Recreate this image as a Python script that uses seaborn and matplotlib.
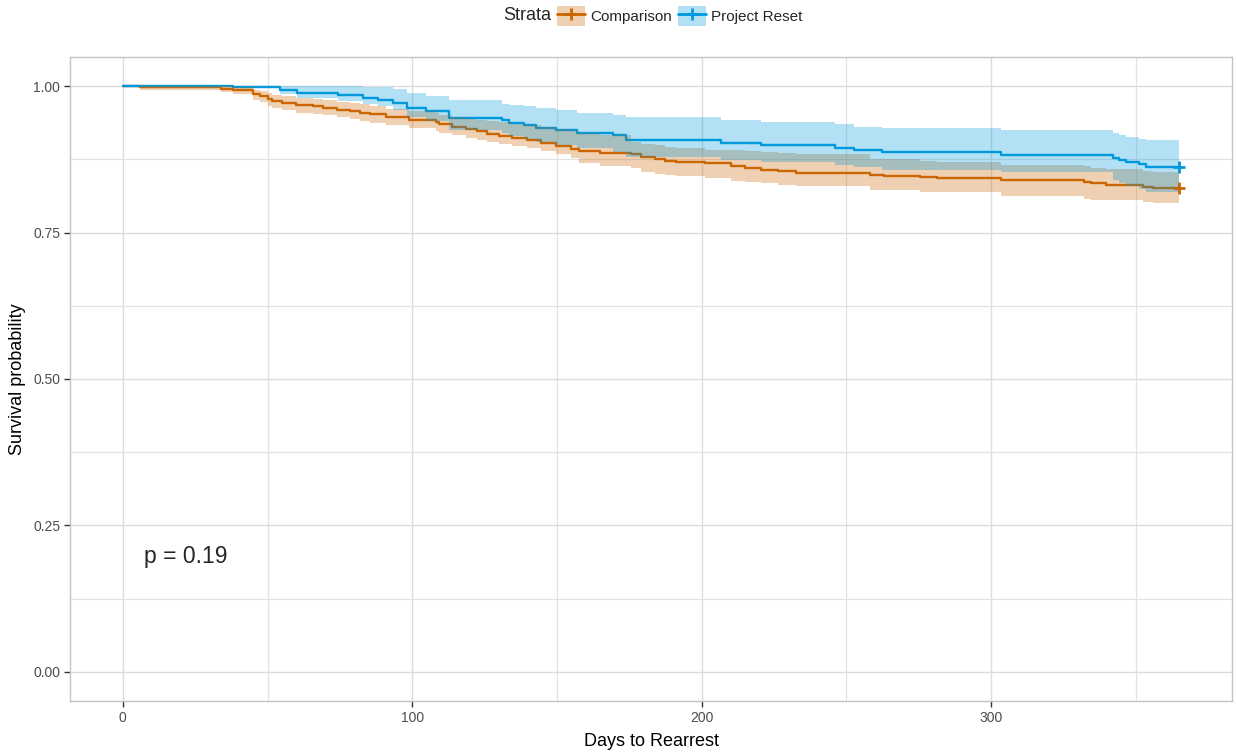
import seaborn as sns
import matplotlib.pyplot as plt
import pandas as pd
from matplotlib.patches import Patch
from matplotlib.lines import Line2D
from matplotlib.ticker import MultipleLocator

# Kaplan-Meier step values (days, survival, CI upper, CI lower)
comp_time = [0, 6, 34, 38, 45, 47.5, 50, 51.6, 55, 60, 65.7, 69, 74, 78.4, 81.8, 85.3, 91, 99,
             108.3, 109.4, 113.8, 118.6, 122.4, 126, 130, 134.5, 139.6, 144.4, 149.6, 154.7,
             157.5, 165, 175.7, 179.2, 184, 187.4, 191, 201, 210, 215, 220.4, 226.3, 232.5,
             258, 263, 275.4, 281.3, 303.6, 332.2, 334.6, 339.8, 352.5, 356, 365]
comp_surv = [1.0, 0.998, 0.996, 0.993, 0.986, 0.983, 0.978, 0.974, 0.9715, 0.9676, 0.9659,
             0.9637, 0.9602, 0.9573, 0.9551, 0.9522, 0.9476, 0.9432, 0.9391, 0.9352, 0.9306,
             0.9278, 0.9237, 0.9193, 0.9152, 0.9125, 0.9078, 0.9032, 0.8981, 0.8937, 0.8896,
             0.8868, 0.884, 0.8794, 0.8754, 0.8725, 0.8698, 0.8681, 0.864, 0.8606, 0.8578,
             0.8555, 0.8527, 0.8481, 0.8469, 0.8452, 0.8435, 0.8391, 0.8357, 0.834, 0.8311,
             0.8271, 0.8254, 0.8254]
comp_upper = [1.0, 1.0, 1.0, 0.999, 0.994, 0.992, 0.988, 0.985, 0.983, 0.98, 0.978, 0.976,
              0.973, 0.971, 0.969, 0.966, 0.962, 0.958, 0.954, 0.951, 0.947, 0.944, 0.942,
              0.94, 0.939, 0.936, 0.934, 0.93, 0.927, 0.924, 0.921, 0.917, 0.905, 0.902,
              0.899, 0.896, 0.894, 0.892, 0.891, 0.889, 0.888, 0.886, 0.884, 0.876, 0.875,
              0.8725, 0.871, 0.866, 0.863, 0.861, 0.859, 0.856, 0.853, 0.853]
comp_lower = [1.0, 0.993, 0.99, 0.986, 0.977, 0.973, 0.967, 0.963, 0.96, 0.955, 0.953, 0.951,
              0.947, 0.944, 0.941, 0.938, 0.934, 0.929, 0.924, 0.92, 0.916, 0.912, 0.909,
              0.905, 0.902, 0.898, 0.894, 0.889, 0.885, 0.878, 0.869, 0.864, 0.86, 0.854,
              0.851, 0.848, 0.846, 0.844, 0.838, 0.836, 0.834, 0.832, 0.83, 0.823, 0.822,
              0.82, 0.819, 0.813, 0.808, 0.806, 0.805, 0.802, 0.8, 0.8]

reset_time = [0, 38.2, 54.4, 60.2, 74.3, 82.9, 88, 93.2, 98.3, 104.9, 112.8, 131, 133.4,
              138.6, 142.7, 149.6, 156.8, 169.5, 173.7, 206.7, 220.4, 246.2, 252.8, 262.4,
              303.6, 342.2, 344.2, 346.6, 351.1, 353.5, 365]
reset_surv = [1.0, 0.999, 0.993, 0.9886, 0.9846, 0.9807, 0.9773, 0.9722, 0.963, 0.9573,
              0.9462, 0.942, 0.938, 0.933, 0.929, 0.925, 0.921, 0.916, 0.908, 0.903, 0.9005,
              0.8954, 0.892, 0.8869, 0.8834, 0.8783, 0.8749, 0.8698, 0.8669, 0.8613, 0.8613]
reset_upper = [1.0, 1.0, 1.0, 1.0, 1.0, 0.999, 0.998, 0.995, 0.988, 0.983, 0.976, 0.969,
               0.968, 0.966, 0.963, 0.96, 0.955, 0.951, 0.947, 0.943, 0.939, 0.935, 0.931,
               0.928, 0.925, 0.92, 0.916, 0.913, 0.91, 0.908, 0.908]
reset_lower = [1.0, 0.997, 0.986, 0.98, 0.975, 0.97, 0.966, 0.959, 0.948, 0.94, 0.925, 0.92,
               0.915, 0.91, 0.905, 0.9, 0.895, 0.888, 0.88, 0.874, 0.871, 0.866, 0.862,
               0.857, 0.853, 0.84, 0.835, 0.829, 0.825, 0.819, 0.819]

strata = ["Comparison", "Project Reset"]
colors = {"Comparison": "#CC6600", "Project Reset": "#0099DD"}
p_label = "p = 0.19"

df = pd.concat([
    pd.DataFrame({"time": comp_time, "surv": comp_surv, "upper": comp_upper,
                  "lower": comp_lower, "strata": strata[0]}),
    pd.DataFrame({"time": reset_time, "surv": reset_surv, "upper": reset_upper,
                  "lower": reset_lower, "strata": strata[1]}),
], ignore_index=True)

sns.set_style("whitegrid")
plt.rcParams['font.family'] = ['Liberation Sans', 'DejaVu Sans']

fig = plt.figure(figsize=(12.36, 7.53), dpi=100)
ax = fig.add_axes([70/1236, 1 - 701/753, (1232 - 70)/1236, (701 - 57)/753])

sns.lineplot(data=df, x="time", y="surv", hue="strata", palette=colors, sort=False,
             estimator=None, drawstyle="steps-post", linewidth=1.7, legend=False, ax=ax)
for s in strata:
    d = df[df.strata == s]
    ax.fill_between(d.time, d.lower, d.upper, step="post", color=colors[s],
                    alpha=0.3, linewidth=0, zorder=3)
    last = d.iloc[[-1]]
    sns.scatterplot(data=last, x="time", y="surv", marker="+", s=80, linewidth=2,
                    color=colors[s], ax=ax, zorder=4, legend=False)

ax.set_xlim(-18.25, 383.25)
ax.set_ylim(-0.05, 1.05)
ax.xaxis.set_major_locator(MultipleLocator(100))
ax.xaxis.set_minor_locator(MultipleLocator(50))
ax.yaxis.set_major_locator(MultipleLocator(0.25))
ax.yaxis.set_minor_locator(MultipleLocator(0.125))
ax.set_yticklabels([f"{v:.2f}" for v in ax.get_yticks()])
ax.grid(which="major", color="#DCDCDC", linewidth=1.0)
ax.grid(which="minor", color="#E2E2E2", linewidth=0.9)
ax.set_axisbelow(True)
for sp in ax.spines.values():
    sp.set_color("#C4C4C4")
    sp.set_linewidth(1.0)
ax.tick_params(which="major", length=4, width=1, color="#333333", labelsize=10,
               labelcolor="#4D4D4D", bottom=True, left=True, pad=3)
ax.tick_params(which="minor", length=0)
ax.set_xlabel("Days to Rearrest", fontsize=13, color="black", labelpad=6)
ax.set_ylabel("Survival probability", fontsize=13, color="black", labelpad=5)

ax.text(7.2, 0.196, p_label, fontsize=16.5, ha="left", va="center")

handles = [(Patch(facecolor=colors[s], alpha=0.3, linewidth=0),
            Line2D([], [], color=colors[s], linewidth=2, marker="+", markersize=9,
                   markeredgewidth=2)) for s in strata]
fig.text(503/1236, 1 - 16/753, "Strata", fontsize=13, ha="left", va="center")
fig.legend(handles, strata, loc="center left", bbox_to_anchor=(557/1236, 1 - 16/753),
           ncol=2, frameon=False, fontsize=11, handlelength=1.8, handleheight=1.6,
           handletextpad=0.35, columnspacing=0.45, borderpad=0, borderaxespad=0)

fig.savefig("out.png", dpi=100)
